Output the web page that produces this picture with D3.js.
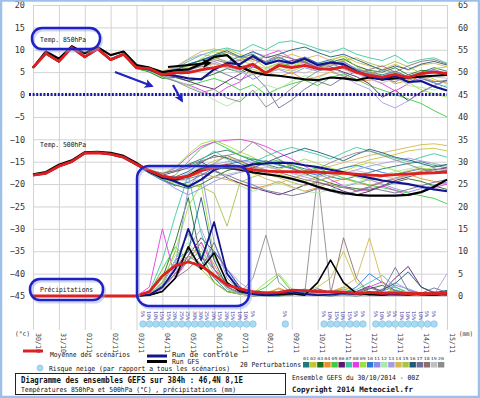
<!DOCTYPE html>
<html>
<head>
<meta charset="utf-8">
<script src="https://cdn.jsdelivr.net/npm/d3@7"></script>
<style>
body { margin: 0; background: #fff; }
svg { display: block; }
text { font-family: "DejaVu Sans Mono", monospace; }
</style>
</head>
<body>
<div id="chart"></div>
<script>
/* -----------------------
data
------------------------- */

var hours = [0,12,24,36,48,60,72,84,96,108,120,132,144,156,168,180,192,204,216,228,240,252,264,276,288,300,312,324,336,348,360,372,384];
var days = ["30/10","31/10","01/11","02/11","03/11","04/11","05/11","06/11","07/11","08/11","09/11","10/11","11/11","12/11","13/11","14/11","15/11"];
var tempTicks = [-45,-40,-35,-30,-25,-20,-15,-10,-5,0,5,10,15,20];
var precTicks = [0,5,10,15,20,25,30,35,40,45,50,55,60,65];
var pertNames = ["01","02","03","04","05","06","07","08","09","10","11","12","13","14","15","16","17","18","19","20"];
var pertColors = ["#1f7a7a","#c4c43a","#1e6e1e","#e8902a","#3ccc3c","#5a1a6a","#3cc8a0","#e23ce2","#9ee040","#2a78d8",
                  "#8c8ce6","#a8e8a8","#a89ce0","#d4b850","#a8c448","#1e5a78","#6e6e96","#8c6e6e","#c0c0c0","#8c8c8c"];

// 850 hPa (°C)
var t850Mean = [6.0,9.2,7.4,10.5,8.4,10.2,7.8,9.0,6.0, 5.8,4.4,4.9,4.9,5.5,6.0,6.6,5.8, 6.8,4.8,6.5,6.0,6.5,5.8,5.6,6.2, 5.0,4.3,3.9,4.5,3.8,4.7,5.0,4.7];
var t850Ctrl = [6.0,9.2,7.4,10.5,8.4,10.2,7.8,9.0,6.0, 5.6,4.4,4.2,3.6,3.4,5.6,7.0,6.8, 8.6,6.8,7.6,7.0,8.0,6.6,7.2,6.8, 5.2,4.0,3.4,4.2,2.8,3.0,1.8,0.9];
var t850Gfs  = [6.0,9.6,8.0,10.8,9.2,10.6,8.8,9.6,6.6, 6.0,5.0,5.4,5.6,6.8,8.4,8.8,6.2, 5.0,4.4,4.2,3.8,3.4,3.2,3.8,3.6, 3.2,3.8,3.4,3.6,3.8,4.0,4.2,4.4];
var t850Members = [
  [6.2,9.4,7.6,10.3,8.6,10.0,8.0,9.2,6.3, 6.0,4.8,5.5,6.5,7.8,8.6,9.4,8.2, 9.0,7.2,8.4,7.0,8.0,6.4,6.8,7.4, 5.6,5.0,4.4,5.2,4.0,5.0,6.0,5.2],
  [5.8,9.0,7.2,10.6,8.2,10.4,7.6,8.8,5.8, 5.4,4.2,4.6,5.8,7.0,8.8,10.2,9.0, 8.0,6.0,7.0,6.2,7.2,5.8,6.6,7.8, 6.4,5.2,4.0,5.0,3.2,4.2,5.8,6.2],
  [6.0,9.0,7.5,10.4,8.3,10.1,7.7,8.9,5.9, 5.0,3.6,3.8,3.0,3.6,4.6,5.8,5.0, 6.6,5.0,6.2,7.0,7.4,6.0,7.2,8.0, 6.4,5.4,5.0,6.0,4.4,5.4,5.2,4.2],
  [6.1,9.6,7.3,10.8,8.5,10.3,7.9,9.1,6.1, 6.2,4.6,5.2,5.6,6.2,7.0,6.0,6.4, 4.4,5.2,4.0,5.0,3.2,4.0,5.0,4.2, 3.0,3.2,4.0,2.4,3.2,4.0,3.0,2.8],
  [6.0,9.1,7.3,10.4,8.3,10.2,7.8,8.8,5.7, 5.2,3.8,3.0,2.0,2.8,3.6,2.6,1.0, 2.2,0.0,1.4,2.4,3.2,2.0,3.8,4.6, 3.4,2.0,1.0,0.0,-1.0,-2.0,-3.6,-5.0],
  [6.0,9.3,7.5,10.5,8.4,10.2,7.8,9.0,6.0, 5.6,4.6,4.0,3.0,2.0,1.2,3.0,4.6, 6.2,5.0,6.8,7.6,8.2,7.0,6.2,5.0, 4.0,2.4,-0.6,1.0,-1.4,0.6,2.0,3.2],
  [6.0,9.2,7.4,10.5,8.4,10.2,7.8,9.0,6.0, 5.8,5.0,5.8,7.4,8.8,9.8,10.4,9.6, 11.2,10.0,11.6,12.0,11.2,10.2,9.4,10.4, 9.0,8.2,7.6,8.8,7.0,7.8,8.2,7.0],
  [6.0,9.1,7.3,10.5,8.4,10.1,7.9,9.0,6.0, 5.6,4.4,3.0,2.2,1.0,-0.4,1.6,2.8, 6.4,8.8,9.8,8.0,7.0,6.2,5.4,6.6, 4.8,3.6,2.4,0.8,2.4,4.4,5.6,4.6],
  [5.9,9.0,7.2,10.2,8.2,10.0,7.6,8.8,5.8, 5.4,4.0,4.6,6.2,8.0,9.6,8.8,7.6, 6.6,5.8,7.0,6.4,7.6,6.8,7.8,8.6, 6.2,4.6,3.6,4.4,2.8,1.0,0.2,-0.6],
  [6.0,9.3,7.5,10.6,8.5,10.2,7.8,9.0,6.1, 6.0,5.0,5.6,6.8,7.6,8.4,7.2,8.6, 7.8,7.0,8.2,7.2,8.4,7.0,7.8,6.4, 5.6,4.2,3.2,4.0,2.8,3.6,2.6,1.6],
  [6.0,9.2,7.4,10.4,8.4,10.2,7.8,9.0,6.0, 5.8,4.6,4.8,5.2,6.6,7.4,6.2,5.4, 3.4,4.8,5.6,4.6,6.0,5.2,6.4,7.2, 5.8,4.8,4.0,5.2,3.6,4.8,5.6,4.4],
  [6.0,9.1,7.4,10.4,8.4,10.1,7.8,8.9,6.0, 5.4,4.0,3.2,2.0,0.6,-1.2,-2.6,-1.0, 0.4,2.2,1.2,3.0,4.2,3.6,5.0,6.2, 5.0,3.8,3.2,4.2,2.0,1.6,1.0,2.2],
  [6.0,9.2,7.4,10.5,8.4,10.2,7.8,9.0,6.0, 5.8,5.0,6.0,7.8,9.0,8.4,7.2,7.8, 9.4,8.6,7.2,6.8,7.8,6.0,5.4,4.0, 2.4,1.2,-1.8,-3.0,-1.4,0.4,2.0,3.0],
  [6.0,9.4,7.6,10.7,8.6,10.4,8.0,9.2,6.2, 6.0,5.2,6.2,8.0,9.6,10.2,9.4,8.2, 7.4,8.8,8.0,9.0,8.0,8.8,7.6,8.6, 7.2,6.4,5.6,6.8,5.4,6.6,7.0,6.2],
  [6.0,9.2,7.4,10.5,8.4,10.2,7.8,9.0,6.0, 5.6,4.4,5.0,6.4,7.2,8.2,7.4,6.8, 5.6,4.8,5.8,5.2,6.4,5.8,6.8,7.6, 8.2,7.0,6.2,7.4,6.2,4.8,3.4,2.4],
  [6.0,9.2,7.4,10.5,8.4,10.2,7.8,9.0,6.0, 5.8,4.6,5.4,6.8,7.6,8.8,9.8,8.4, 9.6,8.2,9.0,10.0,10.6,9.4,8.4,9.0, 7.8,6.6,5.4,6.4,5.6,6.8,7.4,6.6],
  [6.0,9.0,7.2,10.3,8.2,10.0,7.6,8.8,5.9, 5.4,4.2,4.6,5.4,6.4,5.6,4.4,3.2, 4.6,1.6,-3.0,-1.2,1.2,3.0,2.0,3.8, 5.2,4.6,3.8,2.8,4.4,3.6,2.8,3.2],
  [6.0,9.2,7.4,10.5,8.4,10.2,7.8,9.0,6.0, 5.8,4.8,5.6,6.6,7.0,7.8,7.0,7.6, 8.2,7.4,8.8,8.0,7.2,6.0,7.0,5.8, 4.6,5.6,6.4,5.0,6.4,7.4,7.8,6.8],
  [6.0,9.2,7.4,10.5,8.4,10.2,7.8,9.0,6.0, 5.6,4.6,4.2,4.8,5.8,6.8,6.0,5.0, 4.4,5.6,6.4,5.4,4.8,5.8,6.8,5.6, 4.6,3.4,2.6,3.6,2.4,3.4,4.0,3.6],
  [6.0,9.2,7.4,10.5,8.4,10.2,7.8,9.0,6.0, 5.6,4.0,3.0,1.6,0.4,1.2,-0.8,-1.6, 1.0,-2.8,-1.0,1.4,3.4,5.2,6.0,4.8, 3.2,4.4,5.6,4.8,3.4,4.4,5.2,4.4]
];

// 500 hPa (°C)
var t500Mean = [-18.0,-17.6,-16.0,-15.0,-13.1,-13.0,-13.3,-14.0,-15.6, -17.0,-18.2,-18.7,-18.3,-17.0,-16.3,-15.9,-16.3, -16.8,-17.1,-17.2,-17.2,-17.3,-17.3,-17.5,-17.6, -17.8,-18.0,-18.1,-17.9,-17.7,-17.6,-17.5,-17.3];
var t500Ctrl = [-18.0,-17.6,-16.0,-15.0,-13.1,-13.0,-13.3,-14.0,-15.6, -17.2,-18.4,-19.4,-20.6,-19.0,-16.8,-16.0,-16.2, -15.6,-15.4,-15.2,-15.3,-15.8,-16.2,-16.8,-17.4, -18.0,-18.6,-19.2,-19.6,-20.0,-20.6,-21.2,-21.6];
var t500Gfs  = [-17.8,-17.3,-15.7,-14.7,-12.9,-12.8,-13.0,-13.7,-15.3, -17.2,-18.6,-19.0,-18.2,-16.6,-16.2,-16.4,-16.8, -17.4,-17.8,-18.2,-18.8,-19.6,-20.6,-21.4,-22.0, -22.4,-22.6,-22.6,-22.6,-22.4,-21.8,-20.6,-19.0];
var t500Members = [
  [-18.0,-17.4,-15.8,-14.8,-13.0,-12.8,-13.2,-14.0,-15.4, -16.8,-17.6,-17.0,-15.6,-14.4,-13.0,-12.4,-13.6, -14.8,-15.6,-16.4,-15.8,-16.6,-17.2,-18.4,-19.0, -18.2,-17.4,-16.6,-16.0,-15.4,-15.0,-15.8,-16.4],
  [-18.1,-17.6,-16.1,-15.0,-13.2,-13.0,-13.4,-14.2,-15.8, -17.4,-18.6,-19.2,-18.0,-16.2,-14.8,-14.0,-15.0, -16.2,-17.0,-17.8,-18.6,-19.4,-18.4,-17.2,-16.4, -15.6,-14.6,-14.0,-13.4,-12.6,-12.2,-12.0,-12.6],
  [-17.9,-17.5,-16.0,-14.9,-13.1,-12.9,-13.3,-14.1,-15.7, -17.4,-19.0,-20.2,-21.0,-20.0,-18.4,-17.0,-16.2, -15.4,-14.8,-15.6,-16.4,-17.6,-18.8,-19.8,-20.6, -21.0,-21.4,-20.6,-19.6,-18.8,-19.4,-20.4,-21.2],
  [-18.0,-17.6,-16.0,-15.0,-13.1,-13.0,-13.3,-14.0,-15.6, -17.2,-18.4,-19.0,-18.4,-17.6,-18.4,-19.0,-19.8, -21.0,-20.4,-19.4,-20.6,-21.6,-20.8,-19.6,-18.8, -19.6,-20.4,-19.4,-18.6,-17.8,-18.8,-19.4,-20.0],
  [-18.0,-17.5,-16.0,-15.0,-13.0,-13.0,-13.4,-14.2,-15.8, -17.6,-18.8,-18.0,-15.0,-12.0,-10.6,-12.0,-13.6, -14.4,-15.2,-14.6,-15.8,-17.0,-16.4,-17.6,-18.6, -19.4,-20.2,-20.8,-21.4,-22.0,-22.6,-23.2,-24.4],
  [-18.0,-17.6,-16.0,-15.0,-13.1,-13.0,-13.3,-14.0,-15.6, -17.0,-18.0,-17.2,-16.4,-15.0,-16.8,-18.6,-19.8, -20.8,-21.6,-22.4,-21.4,-20.2,-19.6,-20.4,-21.6, -22.4,-21.6,-20.4,-19.2,-18.4,-17.6,-16.8,-16.4],
  [-18.0,-17.6,-16.0,-15.0,-13.1,-13.0,-13.3,-14.0,-15.6, -17.2,-18.6,-19.6,-17.8,-14.6,-12.6,-14.4,-16.8, -15.2,-13.8,-12.6,-11.8,-12.6,-13.4,-14.4,-13.0, -11.8,-12.6,-13.4,-14.2,-15.0,-14.0,-13.2,-14.0],
  [-18.0,-17.6,-16.0,-15.0,-13.1,-13.0,-13.3,-14.0,-15.6, -17.0,-17.8,-16.4,-13.8,-11.6,-10.6,-10.2,-10.0, -10.6,-11.6,-13.0,-14.4,-16.0,-17.6,-19.0,-20.4, -21.6,-21.2,-20.4,-21.4,-22.6,-21.8,-20.8,-20.0],
  [-18.0,-17.5,-15.9,-14.9,-13.0,-12.9,-13.2,-14.0,-15.5, -16.8,-17.6,-16.2,-13.4,-11.0,-10.2,-11.4,-12.8, -14.0,-15.6,-16.8,-15.6,-14.4,-15.4,-16.4,-17.2, -16.0,-15.2,-16.0,-17.0,-17.8,-17.0,-16.2,-15.6],
  [-18.0,-17.6,-16.1,-15.1,-13.2,-13.1,-13.4,-14.2,-15.8, -17.6,-19.2,-20.4,-19.6,-18.0,-16.4,-15.6,-15.0, -14.4,-15.0,-15.8,-16.6,-17.4,-18.0,-17.2,-16.4, -15.8,-16.6,-17.4,-18.0,-17.2,-16.6,-17.0,-17.6],
  [-18.0,-17.6,-16.0,-15.0,-13.1,-13.0,-13.3,-14.0,-15.6, -17.4,-19.0,-21.0,-22.4,-21.0,-19.4,-18.2,-17.4, -16.8,-17.4,-18.2,-19.0,-19.8,-20.6,-21.4,-20.6, -19.8,-19.0,-20.0,-21.0,-21.8,-21.0,-20.2,-19.6],
  [-18.0,-17.6,-16.0,-15.0,-13.1,-13.0,-13.3,-14.0,-15.6, -17.0,-17.8,-17.0,-16.0,-15.4,-16.6,-18.4,-20.4, -21.6,-20.6,-19.8,-20.8,-21.6,-22.0,-21.2,-20.4, -19.6,-18.8,-18.0,-17.2,-16.6,-16.0,-15.6,-16.0],
  [-18.0,-17.6,-16.0,-15.0,-13.1,-13.0,-13.3,-14.0,-15.6, -17.2,-18.4,-18.8,-17.6,-16.4,-15.6,-15.0,-14.6, -15.2,-16.0,-16.8,-17.6,-18.4,-19.2,-18.4,-17.6, -16.8,-16.0,-15.4,-14.8,-14.2,-14.8,-15.4,-16.0],
  [-18.0,-17.6,-16.0,-15.0,-13.1,-13.0,-13.3,-14.0,-15.6, -17.0,-18.0,-18.6,-18.2,-17.2,-16.2,-15.4,-16.4, -17.6,-18.8,-19.8,-18.8,-17.8,-16.8,-16.0,-15.2, -14.4,-13.6,-13.0,-12.4,-11.8,-11.2,-11.0,-11.4],
  [-18.0,-17.6,-16.0,-15.0,-13.1,-13.0,-13.3,-14.0,-15.6, -17.4,-18.8,-19.8,-20.2,-20.6,-22.0,-29.4,-19.6, -18.4,-17.6,-18.6,-19.6,-20.4,-19.4,-18.4,-17.6, -18.4,-19.2,-18.4,-17.8,-17.0,-16.4,-17.0,-17.6],
  [-18.0,-17.6,-16.0,-15.0,-13.1,-13.0,-13.3,-14.0,-15.6, -17.2,-18.2,-18.4,-17.2,-15.2,-13.6,-14.2,-15.4, -16.4,-15.2,-14.0,-13.0,-12.0,-12.8,-13.8,-14.8, -13.4,-12.2,-13.0,-14.0,-14.6,-15.4,-16.2,-15.6],
  [-18.0,-17.6,-16.0,-15.0,-13.1,-13.0,-13.3,-14.0,-15.6, -17.4,-18.6,-19.2,-18.8,-18.0,-17.2,-18.0,-19.2, -20.2,-21.4,-22.0,-22.6,-22.0,-21.0,-21.6,-22.4, -21.6,-20.8,-21.4,-22.0,-21.2,-20.4,-19.6,-19.0],
  [-18.0,-17.6,-16.0,-15.0,-13.1,-13.0,-13.3,-14.0,-15.6, -17.0,-17.6,-17.0,-15.8,-14.8,-14.0,-13.6,-14.8, -16.0,-16.8,-17.4,-18.2,-19.0,-19.6,-20.2,-20.8, -21.4,-20.6,-19.6,-18.8,-18.0,-17.2,-16.6,-17.0],
  [-18.0,-17.6,-16.0,-15.0,-13.1,-13.0,-13.3,-14.0,-15.6, -17.2,-18.2,-19.0,-19.4,-19.0,-18.4,-17.8,-17.2, -16.6,-16.2,-16.8,-17.4,-18.0,-18.4,-18.0,-17.4, -17.0,-17.6,-18.2,-18.8,-18.2,-17.6,-17.0,-16.6],
  [-18.0,-17.6,-16.0,-15.0,-13.1,-13.0,-13.3,-14.0,-15.6, -17.0,-18.0,-18.6,-18.0,-16.6,-15.4,-13.6,-13.0, -10.6,-12.6,-14.4,-16.2,-17.6,-16.6,-15.2,-14.0, -13.0,-12.6,-13.6,-14.6,-15.6,-16.6,-17.4,-16.8]
];

// precipitation (mm)
var precMean = [0,0,0,0,0,0,0,0,0, 1.0,4.5,6.8,7.6,6.8,4.6,2.5,1.6, 1.0,0.7,0.8,1.3,1.2,1.0,0.9,0.9, 0.6,0.8,0.6,0.7,0.5,0.6,0.5,0.6];
var precCtrl = [0,0,0,0,0,0,0,0,0, 0.3,2.0,6.0,15.0,8.0,16.5,5.0,1.2, 0.4,0.2,0.6,1.0,0.4,0.2,0.3,0.6, 0.4,0.8,0.6,0.3,0.2,0.4,0.6,0.3];
var precGfs  = [0,0,0,0,0,0,0,0,0, 0.2,1.0,4.0,11.0,6.0,9.6,3.0,1.0, 0.4,0.2,0.3,0.5,0.2,3.0,8.0,3.0, 0.6,0.3,0.2,0.4,0.6,0.3,0.2,0.4];
var precMembers = [
  [0,0,0,0,0,0,0,0,0, 0.4,3.0,8.0,14.0,9.0,4.0,1.0,0.5, 0.2,0,0,0.3,0.5,1.0,0.6,0.2, 0,0.4,0.8,1.2,0.6,0.3,0.5,0.2],
  [0,0,0,0,0,0,0,0,0, 0.2,1.5,6.0,9.0,7.0,5.0,2.0,0.6, 0.3,0.8,1.6,0.6,1.0,2.0,4.0,10.0, 3.0,0.8,0.4,1.0,0.4,0.6,1.0,0.4],
  [0,0,0,0,0,0,0,0,0, 0.6,4.0,12.0,22.0,8.0,3.0,1.0,0.4, 0,0.2,0.5,1.0,0.4,0.2,0,0.3, 0.6,1.6,2.4,1.0,0.4,0.2,0.6,1.2],
  [0,0,0,0,0,0,0,0,0, 0.3,2.0,5.0,8.0,12.0,7.0,2.0,0.5, 0.4,0.2,1.8,0.6,0.2,0.4,0.8,2.0, 1.0,0.6,0.2,0.5,1.0,0.3,0.2,0.4],
  [0,0,0,0,0,0,0,0,0, 0.8,6.0,11.0,8.0,10.0,6.0,3.0,1.0, 0.6,2.0,4.6,1.0,0.4,0.2,0.8,1.6, 0.6,0.3,1.2,2.0,0.8,0.4,0.3,0.6],
  [0,0,0,0,0,0,0,0,0, 0.2,1.0,4.0,9.0,13.0,10.0,6.0,2.0, 0.4,0.2,0.6,1.2,0.4,0.2,0.8,0.4, 1.0,2.2,1.0,4.0,6.6,2.0,0.6,1.0],
  [0,0,0,0,0,0,0,0,0, 1.0,8.0,18.0,27.0,14.0,6.0,1.5,0.4, 0.2,0.6,0.2,0.8,1.6,0.6,0.3,0.8, 1.4,3.0,4.6,2.0,0.6,0.4,0.2,0.5],
  [0,0,0,0,0,0,0,0,0, 2.0,15.0,4.0,8.0,12.0,6.0,2.0,0.8, 0.4,0.2,0.6,0.3,0.2,0.5,1.0,0.4, 0.8,2.0,3.2,1.2,0.4,0.2,0.6,0.3],
  [0,0,0,0,0,0,0,0,0, 0.5,3.0,10.0,20.0,25.0,9.0,3.0,1.0, 0.6,3.0,5.0,1.6,0.6,0.3,0.2,0.6, 0.4,0.2,0.8,1.4,0.6,0.3,0.2,0.4],
  [0,0,0,0,0,0,0,0,0, 0.4,2.4,8.0,10.0,7.0,10.0,6.0,1.6, 0.6,0.3,0.2,0.4,0.8,1.2,0.6,0.4, 2.0,5.0,3.0,1.2,0.8,0.4,0.3,0.6],
  [0,0,0,0,0,0,0,0,0, 0.3,1.6,7.0,24.0,28.0,12.0,4.0,1.0, 0.3,0.2,0.4,0.6,0.2,0.4,1.2,0.6, 0.4,0.2,1.0,2.4,1.6,0.6,0.4,0.2],
  [0,0,0,0,0,0,0,0,0, 0.6,4.0,9.0,12.0,8.0,4.6,2.0,0.6, 0.2,0.4,0.8,0.3,0.2,0.4,0.6,0.2, 0.4,0.8,0.3,0.6,1.0,0.4,0.2,0.3],
  [0,0,0,0,0,0,0,0,0, 0.2,1.2,5.0,11.0,15.0,8.0,6.0,3.0, 1.0,0.4,0.2,0.6,1.0,0.4,0.8,0.4, 0.2,0.6,1.6,3.0,1.4,0.6,0.3,5.0],
  [0,0,0,0,0,0,0,0,0, 0.4,2.0,6.0,11.0,9.0,6.0,3.0,0.8, 0.4,1.0,0.6,0.4,0.3,0.6,1.0,2.0, 4.0,13.0,3.0,0.8,0.4,0.6,1.0,0.5],
  [0,0,0,0,0,0,0,0,0, 0.5,3.0,10.0,8.0,6.0,3.0,1.0,0.4, 0.2,0.4,0.3,0.8,0.4,0.2,0.6,0.8, 0.4,0.3,0.6,1.0,0.6,0.3,0.2,0.4],
  [0,0,0,0,0,0,0,0,0, 0.4,2.0,6.0,10.0,22.0,8.0,2.0,0.6, 0.3,0.6,0.4,0.2,0.8,1.6,0.8,0.4, 0.6,0.4,1.4,2.8,5.4,2.0,0.8,1.2],
  [0,0,0,0,0,0,0,0,0, 0.3,1.8,5.0,8.0,6.0,12.0,5.0,1.4, 0.6,0.3,0.2,0.4,0.6,0.4,0.2,0.6, 1.0,1.8,1.0,6.4,1.2,0.6,1.8,0.8],
  [0,0,0,0,0,0,0,0,0, 0.2,1.0,4.0,6.0,9.0,6.0,3.0,1.0, 0.4,0.2,0.4,0.6,0.3,0.2,0.4,13.0, 4.0,0.6,0.3,0.2,0.4,0.6,0.3,0.2],
  [0,0,0,0,0,0,0,0,0, 0.4,2.6,8.0,14.0,11.0,5.0,1.6,0.5, 0.2,0.4,0.8,0.4,0.2,0.4,0.6,0.3, 0.2,0.6,0.4,0.8,0.3,0.2,0.4,0.6],
  [0,0,0,0,0,0,0,0,0, 0.3,2.0,5.0,9.0,7.0,4.0,2.0,0.6, 4.0,13.6,3.0,0.6,0.4,27.0,1.0,0.4, 0.3,0.6,0.4,0.2,0.6,0.8,0.3,0.4]
];

// snow risk (% of scenarios), 6h steps
var snowHours = [102,108,114,120,126,132,138,144,150,156,162,168,174,180,186,192,198,204, 234, 270,276,282,288,294,300,306, 318,324,330,336,342,348,354,360,366,372];
var snowPct   = [5,10,10,15,15,20,25,25,30,30,25,20,15,20,15,10,10,5, 5, 5,10,15,10,15,5,5, 5,10,5,5,10,10,15,10,5,5];

/* -----------------------
set plot
------------------------- */

var width = 480, height = 398;
var c_mean = '#dd2020', c_ctrl = '#14148c', c_gfs = '#000', c_grid = '#d2d2d2', c_annot = '#1f22c4';

var svg = d3.select("#chart").append("svg")
  .attr("width", width).attr("height", height);

svg.append("rect").attr("width", width).attr("height", height).attr("fill", "#fff");

var x = d3.scaleLinear().domain([0, 384]).range([33, 447]);
var yT = d3.scaleLinear().domain([-45, 20]).range([296, 5]);
var yP = d3.scaleLinear().domain([0, 65]).range([296, 5]);

function txt(g, str, px, py, opt) {
  opt = opt || {};
  var t = g.append("text").attr("x", px).attr("y", py)
    .attr("font-size", opt.size || 7)
    .attr("fill", opt.fill || "#111")
    .attr("font-weight", opt.bold ? "bold" : null)
    .text(str);
  if (opt.len) t.attr("textLength", opt.len).attr("lengthAdjust", "spacingAndGlyphs");
  return t;
}

/* -----------------------
grid and axes
------------------------- */

svg.append("g").attr("transform", "translate(33,0)")
  .call(d3.axisLeft(yT).tickValues(tempTicks).tickSize(-414).tickFormat(""))
  .call(function (g) { g.select(".domain").remove(); })
  .selectAll("line").attr("stroke", c_grid);

svg.append("g").attr("transform", "translate(0,330)")
  .call(d3.axisBottom(x).tickValues(days.map(function (d, i) { return i * 24; })).tickSize(-325).tickFormat(""))
  .call(function (g) { g.select(".domain").remove(); })
  .selectAll("line").attr("stroke", c_grid);

var axL = svg.append("g").attr("transform", "translate(25,0)")
  .call(d3.axisLeft(yT).tickValues(tempTicks).tickSize(0).tickPadding(0));
axL.select(".domain").remove();
axL.selectAll("text").attr("font-size", 8.5).attr("fill", "#333").attr("font-family", "'DejaVu Sans', sans-serif");

var axR = svg.append("g").attr("transform", "translate(458,0)")
  .call(d3.axisRight(yP).tickValues(precTicks).tickSize(0).tickPadding(0));
axR.select(".domain").remove();
axR.selectAll("text").attr("font-size", 8.5).attr("fill", "#333").attr("font-family", "'DejaVu Sans', sans-serif");

txt(svg, "(°c)", 15, 336, {size: 6.5, len: 15, fill: "#333"});
txt(svg, "(mm)", 459, 336, {size: 6.5, len: 14, fill: "#333"});

// dates
svg.append("g").selectAll("text").data(days).enter().append("text")
  .attr("transform", function (d, i) { return "translate(" + (x(i * 24) + 2.5) + ",333) rotate(90)"; })
  .attr("font-size", 7).attr("fill", "#333")
  .attr("textLength", 20).attr("lengthAdjust", "spacingAndGlyphs")
  .text(function (d) { return d; });

/* -----------------------
lines
------------------------- */

var lineT = d3.line().x(function (d, i) { return x(hours[i]); }).y(function (d) { return yT(d); });
var lineP = d3.line().x(function (d, i) { return x(hours[i]); }).y(function (d) { return yP(d); });

var plot = svg.append("g").attr("fill", "none");

function members(arr, gen) {
  plot.append("g").selectAll("path").data(arr).enter().append("path")
    .attr("d", gen)
    .attr("stroke", function (d, i) { return pertColors[i]; })
    .attr("stroke-width", 0.9)
    .attr("stroke-linejoin", "round");
}
members(precMembers, lineP);
members(t500Members, lineT);
members(t850Members, lineT);

function thick(data, gen, color, w) {
  plot.append("path").datum(data).attr("d", gen)
    .attr("stroke", color).attr("stroke-width", w).attr("stroke-linejoin", "round");
}
thick(precGfs, lineP, c_gfs, 1.6);
thick(t500Gfs, lineT, c_gfs, 2.2);
thick(t850Gfs, lineT, c_gfs, 2.2);
thick(precCtrl, lineP, c_ctrl, 1.8);
thick(t500Ctrl, lineT, c_ctrl, 2.2);
thick(t850Ctrl, lineT, c_ctrl, 2.2);
thick(precMean, lineP, c_mean, 2.8);
thick(t500Mean, lineT, c_mean, 2.8);
thick(t850Mean, lineT, c_mean, 2.8);

/* -----------------------
snow risk row
------------------------- */

var snow = svg.append("g");
snow.selectAll("circle").data(snowHours).enter().append("circle")
  .attr("cx", function (d) { return x(d); }).attr("cy", 324).attr("r", 3.3)
  .attr("fill", "#a9daf2").attr("stroke", "#78bfe6").attr("stroke-width", 0.6);
snow.selectAll("text").data(snowHours).enter().append("text")
  .attr("transform", function (d) { return "translate(" + (x(d) - 2.2) + ",311) rotate(90)"; })
  .attr("font-size", 5).attr("fill", "#3c3c9c")
  .text(function (d, i) { return snowPct[i] + "%"; });

/* -----------------------
annotations
------------------------- */

var ann = svg.append("g").attr("fill", "none");

function rbox(x0, y0, w, h, r) {
  ann.append("rect").attr("x", x0 + 1.5).attr("y", y0 + 2).attr("width", w).attr("height", h).attr("rx", r)
    .attr("stroke", "#9aa4e6").attr("stroke-width", 3).attr("opacity", 0.45);
  ann.append("rect").attr("x", x0).attr("y", y0).attr("width", w).attr("height", h).attr("rx", r)
    .attr("stroke", c_annot).attr("stroke-width", 2.5);
}
rbox(32, 28, 68, 21, 10);
rbox(30, 279, 73, 21, 10);
rbox(137, 166, 112, 140, 12);

ann.append("line").attr("x1", 29).attr("x2", 447).attr("y1", yT(0)).attr("y2", yT(0))
  .attr("stroke", "#1a1aa8").attr("stroke-width", 3).attr("stroke-dasharray", "2,1.6");

var defs = svg.append("defs");
[["ab", c_annot], ["ak", "#000"]].forEach(function (m) {
  defs.append("marker").attr("id", m[0]).attr("viewBox", "0 0 10 10")
    .attr("refX", 8).attr("refY", 5).attr("markerWidth", 11).attr("markerHeight", 9)
    .attr("markerUnits", "userSpaceOnUse").attr("orient", "auto")
    .append("path").attr("d", "M0,0 L10,5 L0,10 L2.5,5 Z").attr("fill", m[1]);
});
ann.append("line").attr("x1", 115).attr("y1", 72).attr("x2", 152).attr("y2", 86)
  .attr("stroke", c_annot).attr("stroke-width", 2.2).attr("marker-end", "url(#ab)");
ann.append("line").attr("x1", 173).attr("y1", 85).attr("x2", 182).attr("y2", 101)
  .attr("stroke", c_annot).attr("stroke-width", 2.2).attr("marker-end", "url(#ab)");
ann.append("line").attr("x1", 168).attr("y1", 67).attr("x2", 210).attr("y2", 63)
  .attr("stroke", "#000").attr("stroke-width", 2.2).attr("marker-end", "url(#ak)");

txt(svg, "Temp. 850hPa", 40, 42, {size: 7, len: 46});
txt(svg, "Temp. 500hPa", 40, 147, {size: 7, len: 46});
txt(svg, "Précipitations", 40, 292, {size: 7, len: 53});

/* -----------------------
legend
------------------------- */

var leg = svg.append("g");
leg.append("line").attr("x1", 23).attr("x2", 43).attr("y1", 351).attr("y2", 351).attr("stroke", c_mean).attr("stroke-width", 3);
txt(leg, "Moyenne des scénarios", 50, 357, {size: 7, len: 80});
leg.append("line").attr("x1", 147).attr("x2", 167).attr("y1", 356).attr("y2", 356).attr("stroke", c_ctrl).attr("stroke-width", 3);
txt(leg, "Run de contrôle", 172, 357, {size: 7, len: 66});
leg.append("line").attr("x1", 147).attr("x2", 167).attr("y1", 361.5).attr("y2", 361.5).attr("stroke", "#000").attr("stroke-width", 3);
txt(leg, "Run GFS", 172, 363.5, {size: 7, len: 27});
leg.append("circle").attr("cx", 40).attr("cy", 368).attr("r", 3).attr("fill", "#a9daf2").attr("stroke", "#78bfe6").attr("stroke-width", 0.6);
txt(leg, "Risque neige (par rapport a tous les scénarios)", 49, 371, {size: 7, len: 181});

txt(leg, "20 Perturbations", 240, 367, {size: 7, len: 61});
leg.selectAll("rect.pert").data(pertColors).enter().append("rect").attr("class", "pert")
  .attr("x", function (d, i) { return 303 + i * 7.1; }).attr("y", 362)
  .attr("width", 6.4).attr("height", 5.5).attr("fill", function (d) { return d; });
leg.selectAll("text.pn").data(pertNames).enter().append("text").attr("class", "pn")
  .attr("x", function (d, i) { return 303 + i * 7.1; }).attr("y", 360)
  .attr("font-size", 4).attr("fill", "#333").attr("textLength", 6).attr("lengthAdjust", "spacingAndGlyphs")
  .text(function (d) { return d; });

leg.append("rect").attr("x", 15.5).attr("y", 373.5).attr("width", 270).attr("height", 21)
  .attr("fill", "#fff").attr("stroke", "#222").attr("stroke-width", 1);
txt(leg, "Diagramme des ensembles GEFS sur 384h : 46,4N 8,1E", 21, 383, {size: 8, len: 222, bold: true});
txt(leg, "Températures 850hPa et 500hPa (°C) , précipitations (mm)", 21, 391.5, {size: 7, len: 215});

txt(leg, "Ensemble GEFS du 30/10/2014 - 00Z", 292, 380, {size: 7, len: 127});
txt(leg, "Copyright 2014 Meteociel.fr", 292, 392, {size: 7.5, len: 121, bold: true});

// outer frame
svg.append("rect").attr("x", 1).attr("y", 0.5).attr("width", width - 2).attr("height", height - 1.5)
  .attr("fill", "none").attr("stroke", "#9cc0ea").attr("stroke-width", 2.5);
</script>
</body>
</html>
